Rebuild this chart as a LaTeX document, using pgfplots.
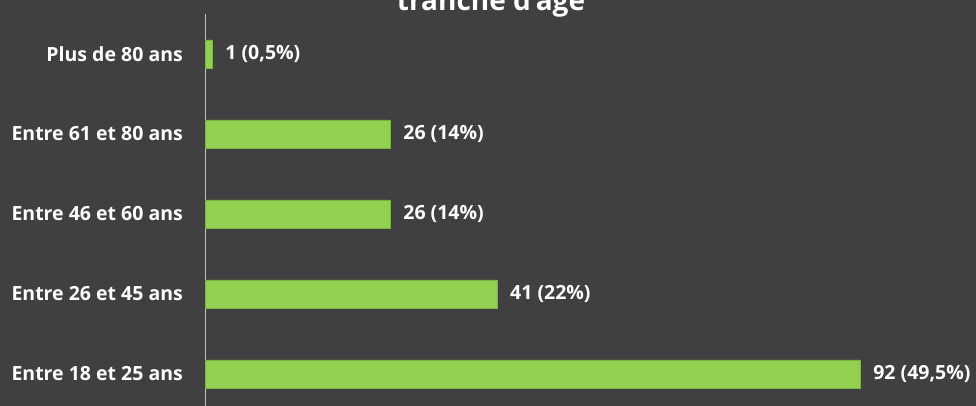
\documentclass[border=0pt]{standalone}
\usepackage{fontspec}
\setmainfont{Open Sans}
\usepackage{pgfplots}
\pgfplotsset{compat=1.18}
\definecolor{bg}{HTML}{404040}
\definecolor{bargreen}{HTML}{92D050}
\definecolor{axisgray}{HTML}{BFBFBF}
\newcommand{\lblfont}{\bfseries\fontsize{19.5}{23}\selectfont}
\begin{document}
\begin{tikzpicture}[x=1pt,y=1pt]
\useasboundingbox (0,0) rectangle (976,406);
\fill[bg] (0,0) rectangle (976,406);
\clip (0,0) rectangle (976,406);
\node[anchor=base, text=white, font=\bfseries\fontsize{28}{32}\selectfont, inner sep=0pt] at (491,395) {tranche d'âge};
\begin{axis}[
  at={(205pt,-40pt)}, anchor=south west,
  xbar, scale only axis, width=712pt, height=432pt,
  xmin=0, xmax=100, ymin=-0.9, ymax=4.5,
  bar width=28pt,
  hide x axis,
  axis y line*=left,
  y axis line style={draw=axisgray, line width=1pt},
  ytick={0,1,2,3,4},
  yticklabels={Entre 18 et 25 ans, Entre 26 et 45 ans, Entre 46 et 60 ans, Entre 61 et 80 ans, Plus de 80 ans},
  major tick length=0pt,
  yticklabel style={text=white, font=\lblfont, inner sep=0pt, xshift=-22pt},
  clip=false,
  point meta=explicit symbolic,
  nodes near coords,
  nodes near coords style={text=white, font=\lblfont, anchor=west, inner sep=0pt, xshift=13pt},
]
\addplot[fill=bargreen, draw=bargreen!85!black, line width=0.6pt] coordinates {
  (92,0) [92 (49,5\%)]
  (41,1) [41 (22\%)]
  (26,2) [26 (14\%)]
  (26,3) [26 (14\%)]
  (1,4) [1 (0,5\%)]
};
\end{axis}
\end{tikzpicture}
\end{document}
